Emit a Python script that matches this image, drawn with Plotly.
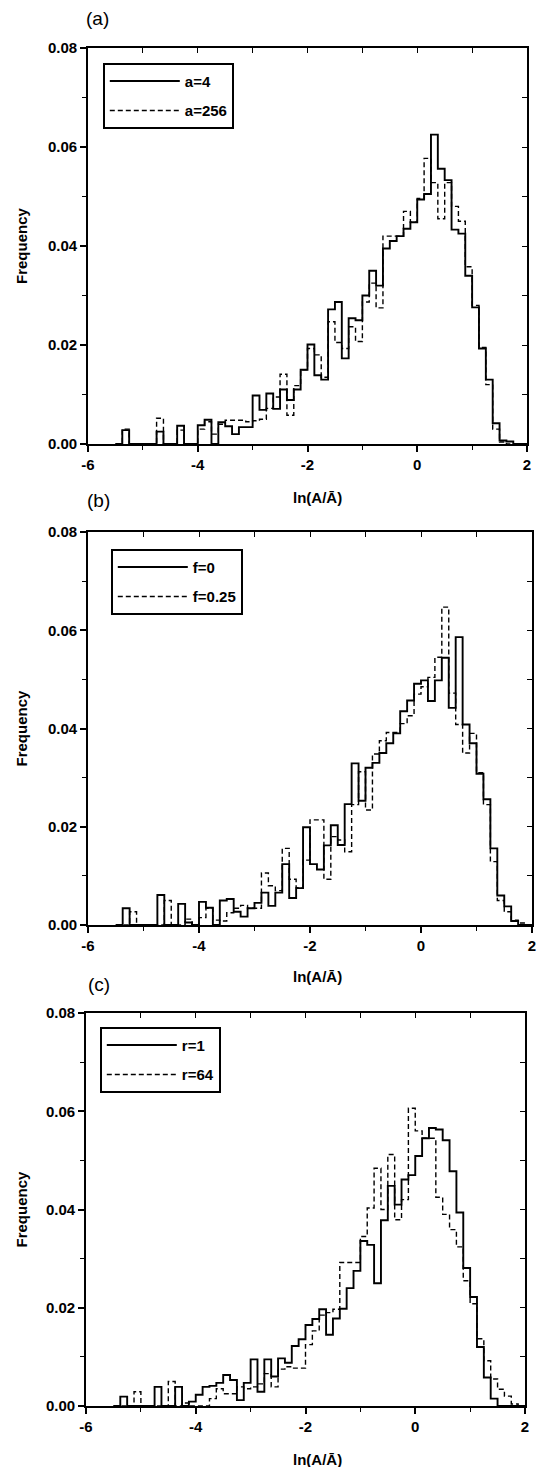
import plotly.graph_objects as go

# ---------------- data ----------------
# left edges of the histogram bins (bin width 0.125)
BIN_LEFT = [-5.5, -5.375, -5.25, -5.125, -5.0, -4.875, -4.75, -4.625, -4.5, -4.375,
            -4.25, -4.125, -4.0, -3.875, -3.75, -3.625, -3.5, -3.375, -3.25, -3.125,
            -3.0, -2.875, -2.75, -2.625, -2.5, -2.375, -2.25, -2.125, -2.0, -1.875,
            -1.75, -1.625, -1.5, -1.375, -1.25, -1.125, -1.0, -0.875, -0.75, -0.625,
            -0.5, -0.375, -0.25, -0.125, 0.0, 0.125, 0.25, 0.375, 0.5, 0.625,
            0.75, 0.875, 1.0, 1.125, 1.25, 1.375, 1.5, 1.625, 1.75, 1.875]
BIN_RIGHT_END = 2.0

A4 = [0, 0.0028, 0, 0, 0, 0, 0.0025, 0, 0, 0.0037,
      0, 0, 0.0038, 0.0049, 0, 0.0044, 0.0036, 0.0020, 0.0034, 0.0034,
      0.0098, 0.0069, 0.0102, 0.0071, 0.0110, 0.0089, 0.0110, 0.0150, 0.0201, 0.0139,
      0.0130, 0.0272, 0.0287, 0.0173, 0.0254, 0.0250, 0.0300, 0.0350, 0.0320, 0.0395,
      0.0410, 0.0420, 0.0435, 0.0448, 0.0494, 0.0505, 0.0625, 0.0556, 0.0533, 0.0433,
      0.0425, 0.0340, 0.0276, 0.0193, 0.0130, 0.0042, 0.0007, 0.0005, 0, 0]
A256 = [0, 0.0030, 0, 0, 0, 0, 0.0052, 0, 0, 0.0028,
        0, 0, 0.0030, 0.0045, 0.0020, 0.0040, 0.0048, 0.0048, 0.0048, 0.0045,
        0.0047, 0.0050, 0.0072, 0.0095, 0.0141, 0.0058, 0.0118, 0.0150, 0.0193, 0.0180,
        0.0135, 0.0247, 0.0205, 0.0193, 0.0237, 0.0207, 0.0287, 0.0325, 0.0275, 0.0420,
        0.0420, 0.0420, 0.0470, 0.0448, 0.0496, 0.0577, 0.0528, 0.0455, 0.0528, 0.0480,
        0.0450, 0.0358, 0.0280, 0.0195, 0.0120, 0.0030, 0.0004, 0, 0, 0]
F0 = [0, 0.0034, 0, 0, 0, 0, 0.0061, 0, 0, 0.0043,
      0.0005, 0, 0.0047, 0.0035, 0, 0.0050, 0.0053, 0.0027, 0.0017, 0.0034,
      0.0045, 0.0066, 0.0039, 0.0066, 0.0124, 0.0055, 0.0075, 0.0199, 0.0124, 0.0113,
      0.0162, 0.0203, 0.0163, 0.0246, 0.0329, 0.0253, 0.0320, 0.0330, 0.0350, 0.0370,
      0.0390, 0.0435, 0.0457, 0.0491, 0.0498, 0.0456, 0.0498, 0.0544, 0.0442, 0.0586,
      0.0408, 0.0370, 0.0308, 0.0256, 0.0156, 0.0060, 0.0038, 0.0008, 0, 0]
F025 = [0, 0, 0.0027, 0, 0, 0, 0, 0.0050, 0, 0,
        0.0012, 0, 0.0015, 0.0034, 0.0010, 0.0008, 0.0025, 0.0034, 0.0040, 0.0034,
        0.0034, 0.0106, 0.0080, 0.0070, 0.0156, 0.0093, 0.0076, 0.0132, 0.0214, 0.0214,
        0.0093, 0.0180, 0.0173, 0.0149, 0.0245, 0.0312, 0.0234, 0.0348, 0.0375, 0.0392,
        0.0392, 0.0410, 0.0426, 0.0470, 0.0485, 0.0504, 0.0545, 0.0647, 0.0472, 0.0408,
        0.0350, 0.0390, 0.0310, 0.0245, 0.0129, 0.0050, 0.0027, 0.0010, 0.0004, 0]
R1 = [0, 0.0019, 0, 0, 0, 0, 0.0039, 0, 0, 0.0039,
      0, 0.0009, 0.0023, 0.0039, 0.0041, 0.0047, 0.0063, 0.0053, 0.0012, 0.0047,
      0.0095, 0.0029, 0.0095, 0.0060, 0.0097, 0.0088, 0.0122, 0.0136, 0.0165, 0.0177,
      0.0197, 0.0145, 0.0178, 0.0198, 0.0240, 0.0275, 0.0336, 0.0328, 0.0250, 0.0378,
      0.0448, 0.0410, 0.0461, 0.0470, 0.0509, 0.0545, 0.0566, 0.0563, 0.0541, 0.0478,
      0.0394, 0.0281, 0.0222, 0.0120, 0.0058, 0.0015, 0, 0, 0, 0]
R64 = [0, 0, 0, 0.0029, 0, 0, 0, 0, 0.0050, 0,
       0.0006, 0, 0, 0, 0.0015, 0.0035, 0.0025, 0.0025, 0.0039, 0.0035,
       0.0039, 0.0045, 0.0066, 0.0039, 0.0075, 0.0080, 0.0077, 0.0077, 0.0125, 0.0153,
       0.0185, 0.0190, 0.0197, 0.0292, 0.0292, 0.0292, 0.0345, 0.0403, 0.0484, 0.0400,
       0.0512, 0.0379, 0.0420, 0.0606, 0.0560, 0.0545, 0.0545, 0.0425, 0.0390, 0.0359,
       0.0324, 0.0255, 0.0208, 0.0137, 0.0092, 0.0055, 0.0034, 0.0020, 0.0004, 0]

SERIES_NAMES = [("a=4", "a=256"), ("f=0", "f=0.25"), ("r=1", "r=64")]
SERIES = [(A4, A256), (F0, F025), (R1, R64)]
PANEL_LABELS = ["(a)", "(b)", "(c)"]
X_TITLE = "ln(A/Ā)"
Y_TITLE = "Frequency"
X_TICKS = [-6, -4, -2, 0, 2]
X_TICK_TEXT = ["-6", "-4", "-2", "0", "2"]
Y_TICKS = [0.0, 0.02, 0.04, 0.06, 0.08]
Y_TICK_TEXT = ["0.00", "0.02", "0.04", "0.06", "0.08"]

# ---------------- layout geometry (pixels) ----------------
W, H = 542, 1467
# (left, right, top, bottom) of each plotting frame
FRAMES = [(88, 527, 48, 444), (88, 532, 532, 925), (86, 525, 1013, 1406)]
LEGEND_POS = [(103, 63), (111, 549), (100, 1027)]
LEGEND_ENTRY_W = [114, 87, 88]
LABEL_POS = [(97, 18), (98, 501), (99, 984)]
XTITLE_Y = [497, 976, 1459]

FONT = "Liberation Sans, Arial, Helvetica, sans-serif"


def px_x(p):
    return p / W


def px_y(p):
    return 1 - p / H


fig = go.Figure()
xs = BIN_LEFT + [BIN_RIGHT_END]

for r in range(3):
    n = r + 1
    main_x = "x" if n == 1 else f"x{n}"
    main_y = "y" if n == 1 else f"y{n}"
    top_x = f"x{n + 3}"
    right_y = f"y{n + 3}"
    legend_id = "legend" if n == 1 else f"legend{n}"
    solid, dashed = SERIES[r]
    name_s, name_d = SERIES_NAMES[r]

    fig.add_trace(go.Scatter(
        x=xs, y=list(solid) + [solid[-1]], mode="lines", line_shape="hv",
        line=dict(color="black", width=1.9), name=name_s,
        xaxis=main_x, yaxis=main_y, legend=legend_id, legendgroup=f"s{n}",
        hoverinfo="skip"))
    fig.add_trace(go.Scatter(
        x=xs, y=list(dashed) + [dashed[-1]], mode="lines", line_shape="hv",
        line=dict(color="black", width=1.4, dash="5px,3px"), name=name_d,
        xaxis=top_x, yaxis=right_y, legend=legend_id, legendgroup=f"d{n}",
        hoverinfo="skip"))

    l, rr, t, b = FRAMES[r]
    xdom = [px_x(l), px_x(rr)]
    ydom = [px_y(b), px_y(t)]
    xk = "xaxis" if n == 1 else f"xaxis{n}"
    yk = "yaxis" if n == 1 else f"yaxis{n}"
    tick_font = dict(family=FONT, size=15, color="black", weight="bold")
    fig.layout[xk] = dict(
        domain=xdom, anchor=main_y, range=[-6, 2], tickvals=X_TICKS,
        ticktext=X_TICK_TEXT, ticks="outside", ticklen=6, tickwidth=1.5,
        tickcolor="black", showline=True, linecolor="black", linewidth=1.6,
        showgrid=False, zeroline=False, tickfont=tick_font, automargin=False,
        minor=dict(ticks="outside", dtick=1, tick0=-6, ticklen=4,
                   tickwidth=1.2, tickcolor="black", showgrid=False),
        fixedrange=True)
    fig.layout[yk] = dict(
        domain=ydom, anchor=main_x, range=[0, 0.08], tickvals=Y_TICKS,
        ticktext=Y_TICK_TEXT, ticks="outside", ticklen=6, tickwidth=1.5,
        tickcolor="black", showline=True, linecolor="black", linewidth=1.6,
        showgrid=False, zeroline=False, tickfont=tick_font, automargin=False,
        minor=dict(ticks="outside", dtick=0.01, tick0=0, ticklen=4,
                   tickwidth=1.2, tickcolor="black", showgrid=False),
        fixedrange=True)
    fig.layout[f"xaxis{n + 3}"] = dict(
        overlaying=main_x, side="top", anchor=right_y, range=[-6, 2],
        dtick=1, tick0=-6, ticks="inside", ticklen=5, tickwidth=1.2,
        tickcolor="black", showticklabels=False, showline=True,
        linecolor="black", linewidth=1.6, showgrid=False, zeroline=False,
        automargin=False, fixedrange=True)
    fig.layout[f"yaxis{n + 3}"] = dict(
        overlaying=main_y, side="right", anchor=top_x, range=[0, 0.08],
        dtick=0.01, tick0=0, ticks="inside", ticklen=5, tickwidth=1.2,
        tickcolor="black", showticklabels=False, showline=True,
        linecolor="black", linewidth=1.6, showgrid=False, zeroline=False,
        automargin=False, fixedrange=True)

    lx, ly = LEGEND_POS[r]
    fig.layout[legend_id] = dict(
        x=px_x(lx), y=px_y(ly), xanchor="left", yanchor="top",
        bordercolor="black", borderwidth=1.8, bgcolor="white",
        font=dict(family=FONT, size=15, color="black", weight="bold"),
        itemwidth=70, entrywidth=LEGEND_ENTRY_W[r], entrywidthmode="pixels",
        tracegroupgap=7, itemclick=False, itemdoubleclick=False)

    px_, py_ = LABEL_POS[r]
    fig.add_annotation(text=PANEL_LABELS[r], x=px_x(px_), y=px_y(py_),
                       xref="paper", yref="paper", showarrow=False,
                       xanchor="center", yanchor="middle",
                       font=dict(family=FONT, size=19, color="black"))
    fig.add_annotation(text=X_TITLE, x=px_x(317), y=px_y(XTITLE_Y[r]),
                       xref="paper", yref="paper", showarrow=False,
                       xanchor="center", yanchor="middle",
                       font=dict(family=FONT, size=15, color="black", weight="bold"))
    fig.add_annotation(text=Y_TITLE, x=px_x(21), y=px_y((t + b) / 2),
                       xref="paper", yref="paper", showarrow=False,
                       textangle=-90, xanchor="center", yanchor="middle",
                       font=dict(family=FONT, size=15, color="black", weight="bold"))

fig.update_layout(
    width=W, height=H, margin=dict(l=0, r=0, t=0, b=0, autoexpand=False),
    paper_bgcolor="white", plot_bgcolor="white", showlegend=True,
)

fig.write_html("out.html", config={"displayModeBar": False},
               post_script="document.body.style.margin='0px';document.body.style.overflow='hidden';")
